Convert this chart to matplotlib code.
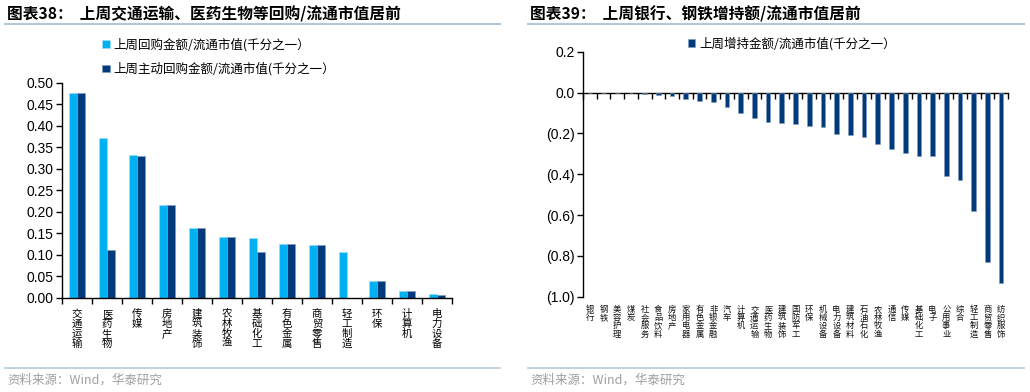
import matplotlib.pyplot as plt
from matplotlib.ticker import FuncFormatter
import numpy as np

plt.rcParams['font.family'] = ['Liberation Sans', 'Noto Sans CJK SC']

CJK = ['Noto Sans CJK SC', 'DejaVu Sans']
LIGHT = '#00B0F0'
DARK = '#003A7A'
RULE = '#B4C8DC'

left_cats = ['交通运输', '医药生物', '传媒', '房地产', '建筑装饰', '农林牧渔', '基础化工',
             '有色金属', '商贸零售', '轻工制造', '环保', '计算机', '电力设备']
buyback = [0.475, 0.372, 0.331, 0.216, 0.163, 0.141, 0.140, 0.125, 0.123, 0.106, 0.038, 0.016, 0.009]
active_buyback = [0.475, 0.111, 0.329, 0.216, 0.163, 0.141, 0.107, 0.125, 0.123, 0.0, 0.038, 0.016, 0.007]

right_cats = ['银行', '钢铁', '美容护理', '煤炭', '社会服务', '食品饮料', '房地产', '家用电器',
              '有色金属', '非银金融', '汽车', '计算机', '交通运输', '医药生物', '建筑装饰', '国防军工',
              '环保', '机械设备', '电力设备', '建筑材料', '石油石化', '农林牧渔', '通信', '传媒',
              '基础化工', '电子', '公用事业', '综合', '轻工制造', '商贸零售', '纺织服饰']
holdings = [0.0, 0.0, 0.0, 0.0, -0.005, -0.011, -0.016, -0.032, -0.040, -0.045, -0.070, -0.100,
            -0.125, -0.144, -0.147, -0.155, -0.165, -0.168, -0.205, -0.206, -0.219, -0.254,
            -0.277, -0.294, -0.312, -0.313, -0.411, -0.428, -0.582, -0.828, -0.932]

W, H = 1030, 392
fig = plt.figure(figsize=(W / 100, H / 100), dpi=100)


def px_axes(x0, y0, x1, y1):
    return fig.add_axes([x0 / W, 1 - y1 / H, (x1 - x0) / W, (y1 - y0) / H])


def frame(x0, x1, title):
    fig.text(x0 + 2 / W, 1 - 14 / H, title, family=CJK, fontsize=11.3, fontweight='bold',
             va='center', ha='left')
    fig.add_artist(plt.Line2D([x0, x1], [1 - 24 / H, 1 - 24 / H], color=RULE, lw=1.5))
    fig.add_artist(plt.Line2D([x0, x1], [1 - 368 / H, 1 - 368 / H], color=RULE, lw=1.2))
    fig.text(x0 + 2 / W, 1 - 380 / H, '资料来源：Wind，华泰研究', family=CJK, fontsize=9,
             color='#A0A0A0', va='center', ha='left')


def vertical(label):
    return '\n'.join(label)


# left chart
frame(5 / W, 500 / W, '图表38：  上周交通运输、医药生物等回购/流通市值居前')
ax = px_axes(62, 82.7, 452, 297.7)
x = np.arange(len(left_cats))
bw = 0.28
ax.bar(x - bw / 2, buyback, bw, color=LIGHT, edgecolor='#9EDCF5', linewidth=0.5,
       label='上周回购金额/流通市值(千分之一）')
ax.bar(x + bw / 2, active_buyback, bw, color=DARK, edgecolor='#7F9CC0', linewidth=0.5,
       label='上周主动回购金额/流通市值(千分之一）')
ax.set_xlim(-0.5, len(left_cats) - 0.5)
ax.set_ylim(0, 0.5)
ax.set_yticks(np.arange(0, 0.51, 0.05))
ax.yaxis.set_major_formatter(FuncFormatter(lambda v, p: f'{v:.2f}'))
ax.set_xticks(x)
ax.set_xticklabels([vertical(c) for c in left_cats], family=CJK, fontsize=7.5,
                   linespacing=1.0, va='top', rotation=0)
ax.set_xticks(np.arange(-0.5, len(left_cats), 1), minor=True)
ax.tick_params(axis='x', which='major', length=0, pad=8)
ax.tick_params(axis='x', which='minor', length=4, width=1, direction='out')
ax.tick_params(axis='y', length=4, width=1, labelsize=10, pad=2)
for s in ['top', 'right']:
    ax.spines[s].set_visible(False)
for s in ['left', 'bottom']:
    ax.spines[s].set_linewidth(1)
ax.legend(loc='upper left', bbox_to_anchor=(0.09, 1.23), frameon=False, prop={'family': CJK, 'size': 9},
          handlelength=0.6, handleheight=0.6, handletextpad=0.3, labelspacing=0.85, borderaxespad=0)

# right chart
frame(528 / W, 1024 / W, '图表39：  上周银行、钢铁增持额/流通市值居前')
ax2 = px_axes(583, 51.7, 1008, 296.7)
x2 = np.arange(len(right_cats))
ax2.bar(x2, holdings, 0.34, color=DARK, edgecolor='#7F9CC0', linewidth=0.4,
        label='上周增持金额/流通市值(千分之一）')
ax2.set_xlim(-0.5, len(right_cats) - 0.5)
ax2.set_ylim(-1.0, 0.2)
ax2.set_yticks(np.arange(-1.0, 0.21, 0.2))
ax2.yaxis.set_major_formatter(FuncFormatter(
    lambda v, p: f'({abs(v):.1f})' if v < -1e-9 else f'{abs(v):.1f}'))
ax2.set_xticks(x2)
ax2.set_xticklabels([vertical(c) for c in right_cats], family=CJK, fontsize=6.0,
                    linespacing=0.88, va='top', rotation=0, color='#111111')
ax2.tick_params(axis='x', which='major', length=0, pad=6)
ax2.tick_params(axis='y', length=4, width=1, labelsize=10, pad=2)
for s in ['top', 'right', 'bottom']:
    ax2.spines[s].set_visible(False)
ax2.spines['left'].set_linewidth(1)
zero = ax2.secondary_xaxis(0, transform=ax2.transData)
zero.set_xticks(np.arange(-0.5, len(right_cats), 1))
zero.set_xticklabels([])
zero.tick_params(length=4, width=1, direction='out')
zero.spines['bottom'].set_linewidth(1)
ax2.legend(loc='upper left', bbox_to_anchor=(0.235, 1.08), frameon=False, prop={'family': CJK, 'size': 9},
           handlelength=0.6, handleheight=0.6, handletextpad=0.3, borderaxespad=0)

fig.savefig('out.png', dpi=100)
